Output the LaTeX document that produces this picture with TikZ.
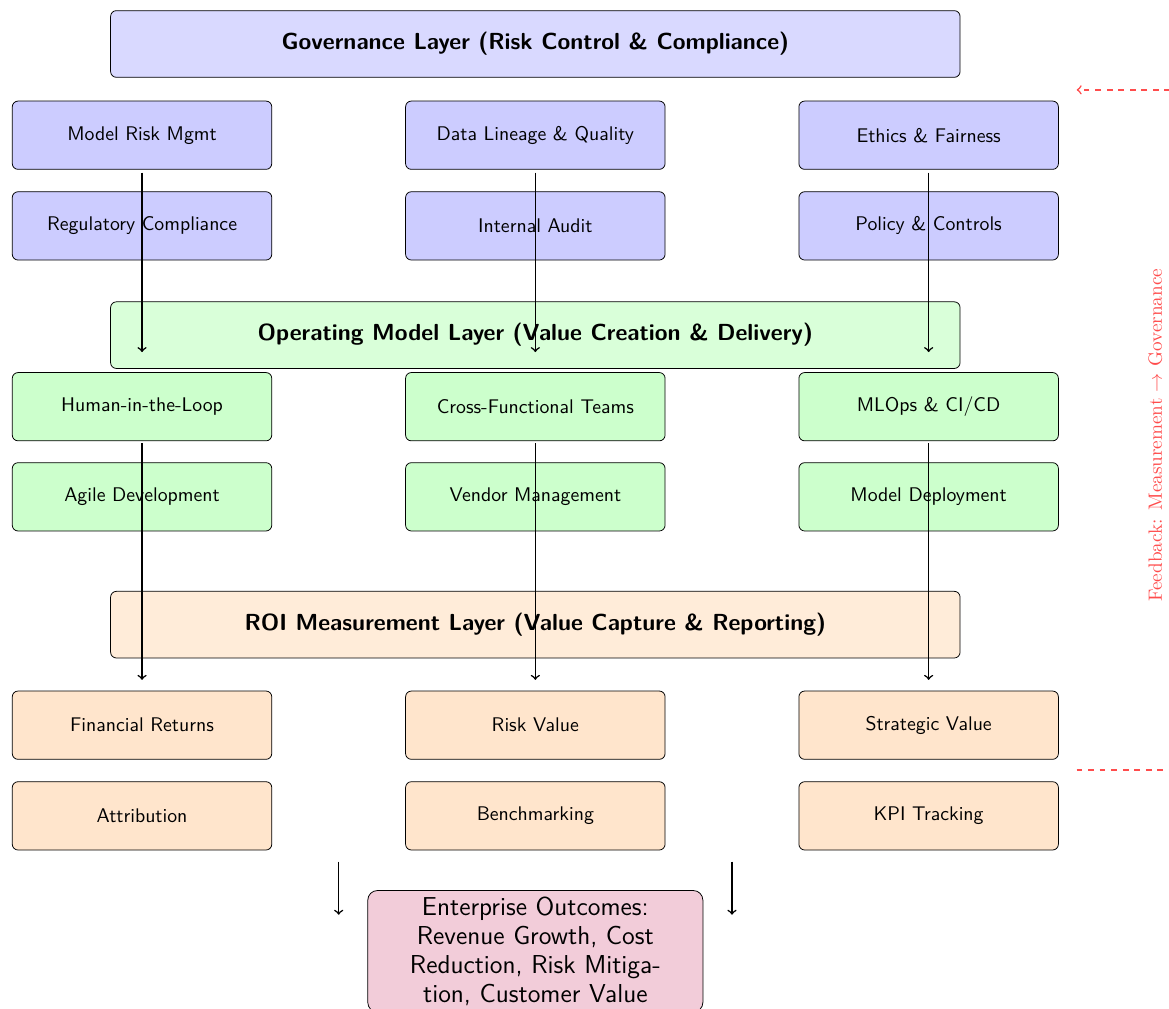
\documentclass[tikz,border=0pt]{standalone}
\usepackage{amsmath,amssymb}
\usetikzlibrary{arrows}

\begin{document}
\begin{tikzpicture}[
	box/.style={draw, rounded corners=3pt, minimum width=4.75cm, minimum height=1.25cm, font=\fontsize{10.3}{12.4}\selectfont\sffamily},
	layer/.style={draw, rounded corners=3pt, minimum width=15.55cm, minimum height=1.22cm, font=\fontsize{12.1}{14.5}\selectfont\bfseries\sffamily},
	flow/.style={->, thick},
	feedback/.style={->, dashed, thick, red!70}]
			\useasboundingbox (-9.80,0.805) rectangle (11.60,-17.66);

			\node[layer, fill=blue!15] (gov) at (0, 0) {Governance Layer (Risk Control \& Compliance)};
			\node[box, fill=blue!20] (mrm) at (-7.2, -1.67) {Model Risk Mgmt};
			\node[box, fill=blue!20] (dlq) at (0, -1.67) {Data Lineage \& Quality};
			\node[box, fill=blue!20] (eth) at (7.2, -1.67) {Ethics \& Fairness};
			\node[box, fill=blue!20] (reg) at (-7.2, -3.33) {Regulatory Compliance};
			\node[box, fill=blue!20] (aud) at (0, -3.33) {Internal Audit};
			\node[box, fill=blue!20] (pol) at (7.2, -3.33) {Policy \& Controls};

			\node[layer, fill=green!15] (op) at (0, -5.33) {Operating Model Layer (Value Creation \& Delivery)};
			\node[box, fill=green!20] (hitl) at (-7.2, -6.64) {Human-in-the-Loop};
			\node[box, fill=green!20] (cft) at (0, -6.64) {Cross-Functional Teams};
			\node[box, fill=green!20] (mlops) at (7.2, -6.64) {MLOps \& CI/CD};
			\node[box, fill=green!20] (agile) at (-7.2, -8.29) {Agile Development};
			\node[box, fill=green!20] (vendor) at (0, -8.29) {Vendor Management};
			\node[box, fill=green!20] (deploy) at (7.2, -8.29) {Model Deployment};

			\node[layer, fill=orange!15] (roi) at (0, -10.63) {ROI Measurement Layer (Value Capture \& Reporting)};
			\node[box, fill=orange!20] (fin) at (-7.2, -12.47) {Financial Returns};
			\node[box, fill=orange!20] (rv) at (0, -12.47) {Risk Value};
			\node[box, fill=orange!20] (sv) at (7.2, -12.47) {Strategic Value};
			\node[box, fill=orange!20] (attr) at (-7.2, -14.13) {Attribution};
			\node[box, fill=orange!20] (bench) at (0, -14.13) {Benchmarking};
			\node[box, fill=orange!20] (kpi) at (7.2, -14.13) {KPI Tracking};

			\node[draw, rounded corners=5pt, fill=purple!20, font=\fontsize{13.5}{15.1}\selectfont\sffamily, text width=5.9cm, align=center, anchor=north] (out) at (0, -15.49)
				{Enterprise Outcomes:\\ Revenue Growth, Cost\\ Reduction, Risk Mitiga-\\tion, Customer Value};

			\coordinate (g1) at (-7.2, -5.64);
			\coordinate (g2) at (0, -5.64);
			\coordinate (g3) at (7.2, -5.64);
			\coordinate (r1) at (-7.2, -11.64);
			\coordinate (r2) at (0, -11.64);
			\coordinate (r3) at (7.2, -11.64);
			\draw[flow] ([yshift=-1.5pt]mrm.south) to (g1);
			\draw[flow] ([yshift=-1.5pt]dlq.south) to (g2);
			\draw[flow] ([yshift=-1.5pt]eth.south) to (g3);
			\draw[flow] ([yshift=-1pt]hitl.south) to (r1);
			\draw[flow] ([yshift=-1pt]cft.south) to (r2);
			\draw[flow] ([yshift=-1pt]mlops.south) to (r3);

			\coordinate (o1s) at (-3.6, -14.97);
			\coordinate (o1e) at (-3.6, -15.94);
			\coordinate (o2s) at (3.6, -14.97);
			\coordinate (o2e) at (3.6, -15.94);
			\draw[flow] (o1s) to (o1e);
			\draw[flow] (o2s) to (o2e);

			\coordinate (fb1) at (9.91, -13.29);
			\coordinate (fb2) at (11.71, -13.29);
			\coordinate (fb3) at (11.71, -0.84);
			\coordinate (fb4) at (9.91, -0.84);
			\draw[feedback] (fb1) -- (fb2) -- (fb3) -- (fb4);
			\node[rotate=90, text=red!70] (fbl) at (11.35, -7.16) {Feedback: Measurement $\rightarrow$ Governance};
		\end{tikzpicture}
\end{document}
